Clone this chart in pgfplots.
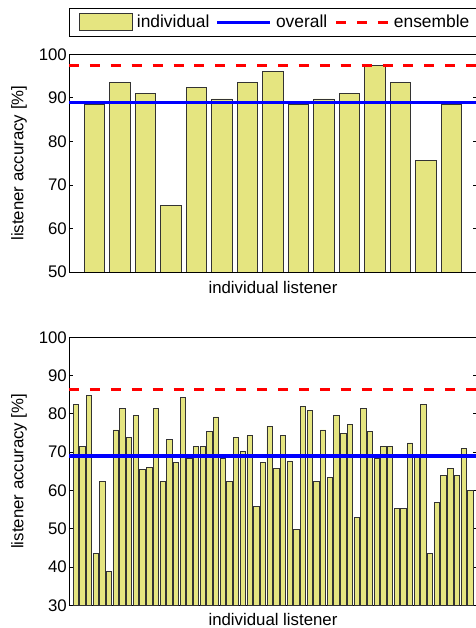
\documentclass[border=0pt]{standalone}
\usepackage{pgfplots}
\pgfplotsset{compat=1.18}
\usepackage{fontspec}
\setmainfont{Liberation Sans}
\definecolor{barfill}{RGB}{229,229,128}
\begin{document}
\fontsize{16.8bp}{19bp}\selectfont
\begin{tikzpicture}
\pgfplotsset{
  every axis/.append style={
    scale only axis, width=408bp,
    xmin=0, axis line style={line width=0.9bp},
    xtick=\empty, ytick pos=both, tick align=inside,
    major tick length=4bp,
    every tick/.style={black, line width=0.8bp},
    /pgf/number format/assume math mode=true,
    tick label style={font=\fontsize{16.8bp}{19bp}\selectfont},
    label style={font=\fontsize{17.1bp}{19bp}\selectfont},
    yticklabel style={inner xsep=2bp},
    every axis y label/.style={at={(axis description cs:-0.103,0.5)}, rotate=90, anchor=south, inner sep=0pt},
    every axis x label/.style={anchor=north, inner sep=0pt},
    ybar, bar width=0.8,
    clip=true,
  },
  indiv/.style={fill=barfill, draw=black!80, line width=0.8bp, bar shift=0pt},
  overall/.style={sharp plot, blue, line width=3.2bp, mark=none},
  ens/.style={sharp plot, red, line width=3.2bp, dash pattern=on 10bp off 10.9bp, mark=none},
}
% ---------- top axis ----------
\begin{axis}[
  name=top, at={(0,333.3bp)}, anchor=south west,
  height=217.7bp, xmax=16, ymin=50, ymax=100,
  ytick={50,60,70,80,90,100},
  xlabel={individual listener},
  ylabel={listener accuracy [\%]},
  xlabel style={at={(axis description cs:0.5,-0.040)}},
  legend columns=3,
  legend style={at={(axis description cs:0,1)}, anchor=south west, yshift=17.6bp,
    draw=black, line width=0.8bp, inner xsep=9.5bp, inner ysep=4.5bp,
    font=\fontsize{17.4bp}{19bp}\selectfont,
    nodes={inner xsep=4.2bp, inner ysep=2bp},
    /tikz/every even column/.append style={column sep=2bp}},
]
\addplot[indiv, legend image code/.code={\draw[fill=barfill, draw=black!80, line width=0.8bp] (0bp,-8.5bp) rectangle (53bp,8.5bp);}]
  coordinates {(1,88.46) (2,93.59) (3,91.03) (4,65.38) (5,92.31) (6,89.74) (7,93.59) (8,96.15)
               (9,88.46) (10,89.74) (11,91.03) (12,97.44) (13,93.59) (14,75.64) (15,88.46)};
\addlegendentry{individual}
\addplot[overall, legend image code/.code={\draw[blue, line width=3.2bp] (0bp,0bp) -- (53bp,0bp);}]
  coordinates {(0,88.9) (16,88.9)};
\addlegendentry{overall}
\addplot[ens, legend image code/.code={\draw[red, line width=3.2bp, dash pattern=on 10bp off 10.9bp, dash phase=-1bp] (0bp,0bp) -- (53bp,0bp);}]
  coordinates {(0,97.44) (16,97.44)};
\addlegendentry{ensemble}
\end{axis}
% ---------- bottom axis ----------
\begin{axis}[
  name=bot, at={(0,0)}, anchor=south west,
  height=268bp, xmax=61, ymin=30, ymax=100,
  ytick={30,40,50,60,70,80,90,100},
  xlabel={individual listener},
  ylabel={listener accuracy [\%]},
  xlabel style={at={(axis description cs:0.5,-0.030)}},
]
\addplot[indiv] coordinates {
 (1,82.4) (2,71.5) (3,84.9) (4,43.6) (5,62.4) (6,38.8) (7,75.8) (8,81.5) (9,73.9) (10,79.5)
 (11,65.4) (12,65.9) (13,81.5) (14,62.4) (15,73.4) (16,67.2) (17,84.3) (18,68.3) (19,71.5) (20,71.5)
 (21,75.4) (22,79.2) (23,68.3) (24,62.4) (25,73.9) (26,70.1) (27,74.3) (28,55.8) (29,67.2) (30,76.8)
 (31,65.8) (32,74.3) (33,67.7) (34,49.7) (35,81.9) (36,81.0) (37,62.4) (38,75.8) (39,63.5) (40,79.6)
 (41,74.8) (42,77.2) (43,52.9) (44,81.5) (45,75.4) (46,68.3) (47,71.5) (48,71.5) (49,55.3) (50,55.3)
 (51,72.4) (52,69.0) (53,82.5) (54,43.5) (55,56.8) (56,63.9) (57,65.8) (58,63.9) (59,71.0) (60,60.1)};
\addplot[overall] coordinates {(0,69.0) (61,69.0)};
\addplot[ens] coordinates {(0,86.4) (61,86.4)};
\coordinate (B) at (rel axis cs:0,0);
\end{axis}
\pgfresetboundingbox
\path[use as bounding box] ([shift={(-69bp,-22.7bp)}]B) rectangle ([shift={(407bp,605.3bp)}]B);
\end{tikzpicture}
\end{document}
